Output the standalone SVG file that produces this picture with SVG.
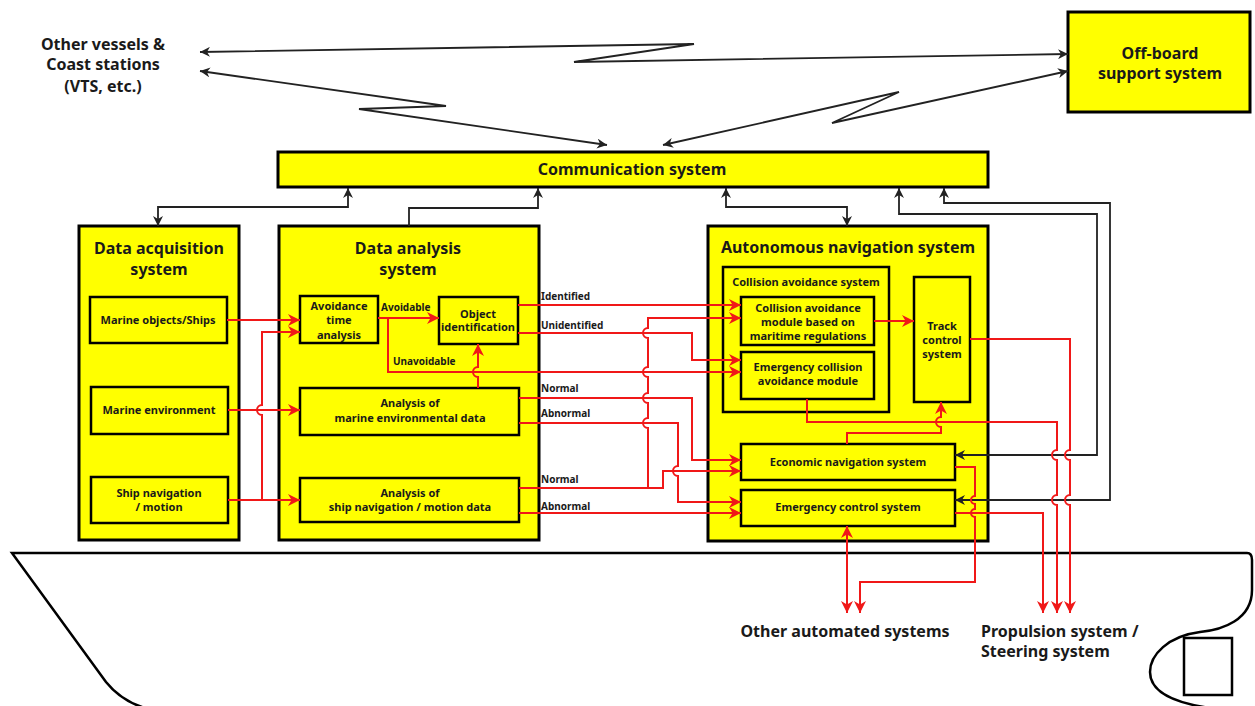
<svg xmlns="http://www.w3.org/2000/svg" width="1255" height="706" viewBox="0 0 1255 706">
<style>
.box{fill:#ffff00;stroke:#000;stroke-width:3}
.ibox{fill:#ffff00;stroke:#000;stroke-width:2.5}
text{font-family:"Noto Sans","Open Sans","DejaVu Sans",sans-serif;font-weight:bold;fill:#1a1a1a;text-anchor:middle}
.t15{font-size:16px}
.t16{font-size:16px}
.t11{font-size:11px}
.lab{font-size:10px;text-anchor:start}
.red{fill:none;stroke:#f01818;stroke-width:2}
.blk{fill:none;stroke:#222;stroke-width:1.8}
.hull{fill:none;stroke:#000;stroke-width:2.5}
</style>
<defs>
<marker id="ar" viewBox="0 0 10 10" refX="10" refY="5" markerWidth="12" markerHeight="12" markerUnits="userSpaceOnUse" orient="auto-start-reverse"><path d="M0,0 L10,5 L0,10 L3,5 z" fill="#f01818"/></marker>
<marker id="ab" viewBox="0 0 10 10" refX="10" refY="5" markerWidth="10" markerHeight="10" markerUnits="userSpaceOnUse" orient="auto-start-reverse"><path d="M0,0 L10,5 L0,10 L3,5 z" fill="#222"/></marker>
</defs>
<rect width="1255" height="706" fill="#fff"/>
<g id="hull">
<path class="hull" d="M145,708 C125,702 114,692 106,682 L12,553 L1247,553 C1251,553 1252,556 1252,560 L1252,590 C1252,620 1222,630 1200,632 C1168,636 1150,655 1150,672 C1150,690 1168,702 1210,708"/>
<rect x="1184" y="638" width="48" height="57" fill="none" stroke="#000" stroke-width="2.5"/>
</g>
<g id="other-vessels">
<text class="t15" x="103" y="50">Other vessels &amp;</text>
<text class="t15" x="103" y="70">Coast stations</text>
<text class="t15" x="103" y="92">(VTS, etc.)</text>
</g>
<g id="offboard">
<rect class="box" x="1068" y="12" width="182" height="100"/>
<text class="t15" x="1160" y="59">Off-board</text>
<text class="t15" x="1160" y="79">support system</text>
</g>
<g id="communication">
<rect class="box" x="278" y="152" width="710" height="35"/>
<text class="t15" x="632" y="175">Communication system</text>
</g>
<g id="data-acquisition">
<rect class="box" x="79" y="226" width="160" height="314"/>
<text class="t16" x="159" y="254">Data acquisition</text>
<text class="t16" x="159" y="275">system</text>
</g>
<g id="marine-objects">
<rect class="ibox" x="90" y="297" width="137" height="46"/>
<text class="t11" x="158" y="324">Marine objects/Ships</text>
</g>
<g id="marine-environment">
<rect class="ibox" x="91" y="387" width="137" height="47"/>
<text class="t11" x="159" y="414">Marine environment</text>
</g>
<g id="ship-navigation">
<rect class="ibox" x="91" y="477" width="137" height="46"/>
<text class="t11" x="159" y="497">Ship navigation</text>
<text class="t11" x="159" y="511">/ motion</text>
</g>
<g id="data-analysis">
<rect class="box" x="279" y="226" width="260" height="314"/>
<text class="t16" x="408" y="254">Data analysis</text>
<text class="t16" x="408" y="275">system</text>
</g>
<g id="avoidance-time">
<rect class="ibox" x="300" y="296" width="78" height="47"/>
<text class="t11" x="339" y="310">Avoidance</text>
<text class="t11" x="339" y="324">time</text>
<text class="t11" x="339" y="339">analysis</text>
</g>
<g id="object-identification">
<rect class="ibox" x="439" y="297" width="79" height="47"/>
<text class="t11" x="478" y="318">Object</text>
<text class="t11" x="478" y="331">identification</text>
</g>
<g id="marine-env-analysis">
<rect class="ibox" x="300" y="388" width="219" height="47"/>
<text class="t11" x="410" y="407">Analysis of</text>
<text class="t11" x="410" y="422">marine environmental data</text>
</g>
<g id="ship-nav-analysis">
<rect class="ibox" x="300" y="478" width="219" height="44"/>
<text class="t11" x="410" y="497">Analysis of</text>
<text class="t11" x="410" y="511">ship navigation / motion data</text>
</g>
<g id="autonomous-navigation">
<rect class="box" x="708" y="226" width="280" height="315"/>
<text class="t16" x="848" y="253">Autonomous navigation system</text>
</g>
<g id="collision-avoidance-system">
<rect class="ibox" x="723" y="267" width="166" height="145"/>
<text class="t11" x="806" y="286">Collision avoidance system</text>
</g>
<g id="collision-module">
<rect class="ibox" x="741" y="297" width="133" height="48"/>
<text class="t11" x="808" y="312">Collision avoidance</text>
<text class="t11" x="808" y="326">module based on</text>
<text class="t11" x="808" y="340">maritime regulations</text>
</g>
<g id="emergency-collision-module">
<rect class="ibox" x="741" y="352" width="133" height="47"/>
<text class="t11" x="808" y="371">Emergency collision</text>
<text class="t11" x="808" y="385">avoidance module</text>
</g>
<g id="track-control">
<rect class="ibox" x="914" y="277" width="56" height="125"/>
<text class="t11" x="942" y="330">Track</text>
<text class="t11" x="942" y="344">control</text>
<text class="t11" x="942" y="358">system</text>
</g>
<g id="economic-navigation">
<rect class="ibox" x="741" y="444" width="214" height="36"/>
<text class="t11" x="848" y="466">Economic navigation system</text>
</g>
<g id="emergency-control">
<rect class="ibox" x="741" y="490" width="214" height="36"/>
<text class="t11" x="848" y="511">Emergency control system</text>
</g>
<g id="other-automated">
<text class="t15" x="845" y="637">Other automated systems</text>
</g>
<g id="propulsion">
<text class="t15" x="981" y="637" style="text-anchor:start">Propulsion system /</text>
<text class="t15" x="981" y="657" style="text-anchor:start">Steering system</text>
</g>
<g id="connectors">
<path class="blk" marker-start="url(#ab)" marker-end="url(#ab)" d="M200,52 L694,44 L574,62 L1068,54"/>
<path class="blk" marker-start="url(#ab)" marker-end="url(#ab)" d="M200,71 L446,106 L359,109 L607,145"/>
<path class="blk" marker-start="url(#ab)" marker-end="url(#ab)" d="M1068,71 L832,123 L899,92 L663,145"/>
<path class="blk" marker-start="url(#ab)" marker-end="url(#ab)" d="M348,188 V207 H158 V226"/>
<path class="blk" marker-end="url(#ab)" d="M409,226 V208 H538 V188"/>
<path class="blk" marker-start="url(#ab)" marker-end="url(#ab)" d="M726,188 V207 H847 V226"/>
<path class="blk" marker-start="url(#ab)" marker-end="url(#ab)" d="M899,188 V214 H1097 V455 H955"/>
<path class="blk" marker-start="url(#ab)" marker-end="url(#ab)" d="M944,188 V203 H1110 V500 H955"/>
<path class="red" marker-end="url(#ar)" d="M227,320 H300"/>
<path class="red" marker-end="url(#ar)" d="M228,500 H300"/>
<path class="red" marker-end="url(#ar)" d="M262,500 V415 A5,5 0 0 1 262,405 V332 H300"/>
<path class="red" marker-end="url(#ar)" d="M228,410 H300"/>
<path class="red" marker-end="url(#ar)" d="M378,318 H439"/>
<path class="red" marker-end="url(#ar)" d="M388,318 V372 H741"/>
<path class="red" marker-end="url(#ar)" d="M478,388 V377 A5,5 0 0 1 478,367 V344"/>
<path class="red" marker-end="url(#ar)" d="M518,305 H741"/>
<path class="red" marker-end="url(#ar)" d="M518,333 H692 V360 H741"/>
<path class="red" marker-end="url(#ar)" d="M519,488 H648 V428 A5,5 0 0 1 648,418 V403 A5,5 0 0 1 648,393 V377 A5,5 0 0 1 648,367 V338 A5,5 0 0 1 648,328 V318 H741"/>
<path class="red" marker-end="url(#ar)" d="M648,488 H663 V471 H741"/>
<path class="red" marker-end="url(#ar)" d="M519,398 H692 V460 H741"/>
<path class="red" marker-end="url(#ar)" d="M519,423 H678 V466 A5,5 0 0 0 678,476 V502 H741"/>
<path class="red" marker-end="url(#ar)" d="M519,513 H741"/>
<path class="red" marker-end="url(#ar)" d="M874,321 H914"/>
<path class="red" marker-end="url(#ar)" d="M807,399 V422 H1057 V450 A5,5 0 0 0 1057,460 V495 A5,5 0 0 0 1057,505 V613"/>
<path class="red" marker-end="url(#ar)" d="M847,444 V433 H941 V427 A5,5 0 0 1 941,417 V402"/>
<path class="red" marker-end="url(#ar)" d="M970,339 H1070 V450 A5,5 0 0 0 1070,460 V495 A5,5 0 0 0 1070,505 V613"/>
<path class="red" marker-end="url(#ar)" d="M955,467 H975 V496 A4,4 0 0 0 975,504 V509 A4,4 0 0 0 975,517 V582 H860 V613"/>
<path class="red" marker-end="url(#ar)" d="M955,513 H1043 V613"/>
<path class="red" marker-start="url(#ar)" marker-end="url(#ar)" d="M847,526 V613"/>
<text class="lab" x="541" y="300">Identified</text>
<text class="lab" x="541" y="329">Unidentified</text>
<text class="lab" x="541" y="392">Normal</text>
<text class="lab" x="541" y="417">Abnormal</text>
<text class="lab" x="541" y="483">Normal</text>
<text class="lab" x="541" y="510">Abnormal</text>
<text class="lab" x="381" y="311">Avoidable</text>
<text class="lab" x="393" y="365">Unavoidable</text>
</g>
</svg>
